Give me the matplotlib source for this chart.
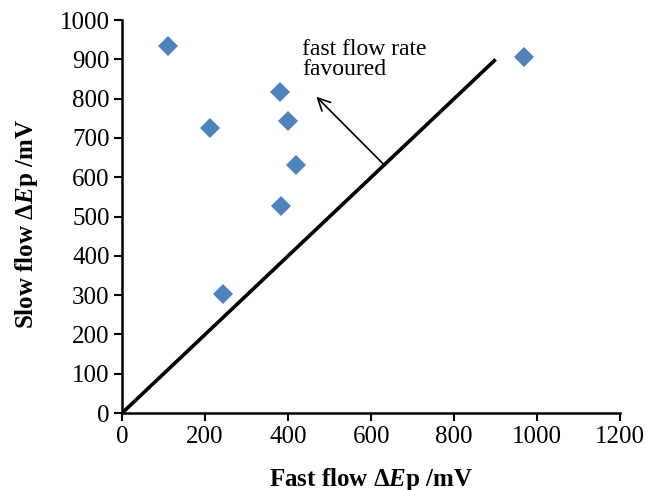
import matplotlib
matplotlib.use("Agg")
import matplotlib.pyplot as plt

plt.rcParams['font.family'] = ['Liberation Serif', 'DejaVu Serif']
plt.rcParams['mathtext.fontset'] = 'custom'
plt.rcParams['mathtext.rm'] = 'Liberation Serif:bold'
plt.rcParams['mathtext.it'] = 'Liberation Serif:italic:bold'
plt.rcParams['mathtext.bf'] = 'Liberation Serif:bold'

fast_flow = [110, 212, 381, 400, 419, 383, 243, 969]
slow_flow = [935, 726, 818, 744, 630, 528, 302, 905]
line_x = [0, 900]
line_y = [0, 900]
x_ticks = [0, 200, 400, 600, 800, 1000, 1200]
y_ticks = [0, 100, 200, 300, 400, 500, 600, 700, 800, 900, 1000]

fig = plt.figure(figsize=(6.46, 4.9), dpi=100)
ax = fig.add_axes([0.189, 0.157, 0.771, 0.802])

ax.plot(line_x, line_y, color='black', lw=2.6, solid_capstyle='butt', zorder=2)
ax.plot(fast_flow, slow_flow, linestyle='none', marker='D', markersize=10.5,
        color='#4F81BD', markeredgewidth=0, zorder=3)

ax.annotate('', xy=(468, 805), xytext=(630, 633),
            arrowprops=dict(arrowstyle='->', color='black', lw=1.2,
                            mutation_scale=22, shrinkA=0, shrinkB=0))
ax.text(434, 952, 'fast flow rate\nfavoured', fontsize=17, va='top', ha='left',
        linespacing=0.95)

ax.set_xlim(0, 1200)
ax.set_ylim(0, 1000)
ax.set_xticks(x_ticks)
ax.set_yticks(y_ticks)
ax.tick_params(axis='both', direction='out', length=6, width=1.5, labelsize=18, pad=3)
for s in ['top', 'right']:
    ax.spines[s].set_visible(False)
for s in ['left', 'bottom']:
    ax.spines[s].set_linewidth(1.8)

ax.set_xlabel(r'Fast flow $\Delta E$p /mV', fontsize=18, fontweight='bold', labelpad=13)
ax.set_ylabel(r'Slow flow $\Delta E$p /mV', fontsize=18, fontweight='bold')
ax.yaxis.set_label_coords(-0.165, 0.48)

fig.savefig('out.png', dpi=100)
